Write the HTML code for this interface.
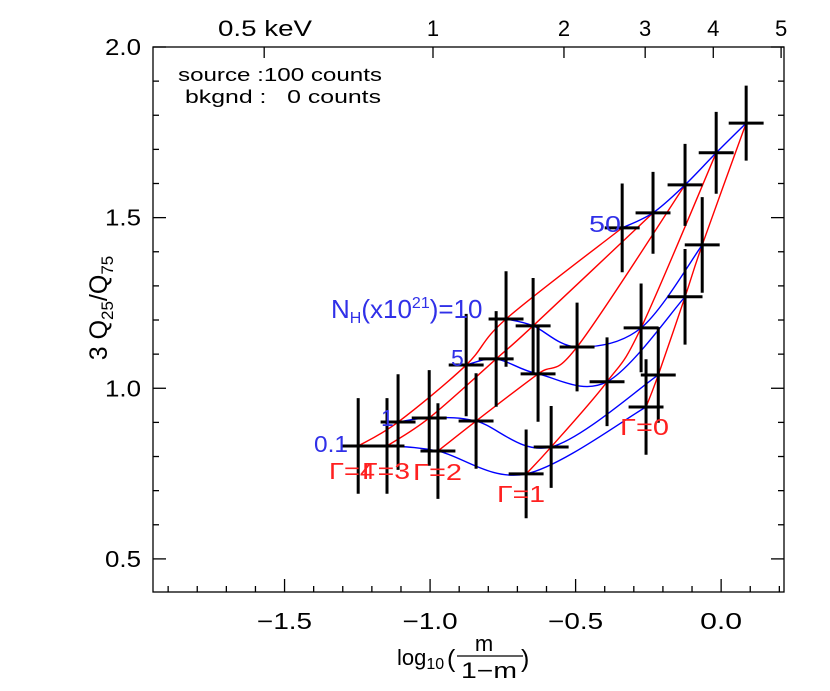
<!DOCTYPE html>
<html><head><meta charset="utf-8"><style>
html,body{margin:0;padding:0;background:#fff;}
svg{display:block;font-family:"Liberation Sans","DejaVu Sans",sans-serif;}
</style></head><body>
<svg id="chart" width="830" height="691" viewBox="0 0 830 691" xmlns="http://www.w3.org/2000/svg">
<rect x="0" y="0" width="830" height="691" fill="#fff"/>
<g id="axes"></g>
<g id="curves"></g>
<g id="points"></g>
<g id="labels">
 <text x="178" y="81" font-size="18" textLength="204" lengthAdjust="spacingAndGlyphs">source :100 counts</text>
 <text x="185" y="103" font-size="18" textLength="196" lengthAdjust="spacingAndGlyphs" xml:space="preserve">bkgnd :   0 counts</text>
 <text x="331" y="318" font-size="26" fill="#3030e8">N<tspan font-size="16" dy="5">H</tspan><tspan dy="-5">(x10</tspan><tspan font-size="16" dy="-10">21</tspan><tspan dy="10">)=10</tspan></text>
 <text x="451" y="366" font-size="23" fill="#3030e8">5</text>
 <text x="381" y="426" font-size="23" fill="#3030e8">1</text>
 <text x="314" y="452" font-size="23" fill="#3030e8" textLength="34" lengthAdjust="spacingAndGlyphs">0.1</text>
 <text x="589" y="232" font-size="23" fill="#3030e8" textLength="32" lengthAdjust="spacingAndGlyphs">50</text>
 <text x="329" y="479" font-size="23" fill="#ff2020" textLength="46" lengthAdjust="spacingAndGlyphs">Γ=4</text>
 <text x="362" y="479" font-size="23" fill="#ff2020" textLength="48" lengthAdjust="spacingAndGlyphs">Γ=3</text>
 <text x="413" y="480" font-size="23" fill="#ff2020" textLength="49" lengthAdjust="spacingAndGlyphs">Γ=2</text>
 <text x="497" y="502" font-size="23" fill="#ff2020" textLength="48" lengthAdjust="spacingAndGlyphs">Γ=1</text>
 <text x="620" y="435" font-size="23" fill="#ff2020" textLength="49" lengthAdjust="spacingAndGlyphs">Γ=0</text>
 <text transform="translate(107,308) rotate(-90)" text-anchor="middle" font-size="25">3 Q<tspan font-size="17" dy="6">25</tspan><tspan dy="-6">/Q</tspan><tspan font-size="17" dy="6">75</tspan></text>
 <g>
  <text x="397" y="665" font-size="22">log<tspan font-size="16" dy="4">10</tspan></text>
  <text x="447" y="667" font-size="25">(</text>
  <text x="484" y="651" font-size="22" text-anchor="middle">m</text>
  <line x1="457" y1="656" x2="523" y2="656" stroke="#000" stroke-width="1.3"/>
  <text x="489" y="678" font-size="22" text-anchor="middle" textLength="56" lengthAdjust="spacingAndGlyphs">1−m</text>
  <text x="521" y="667" font-size="25">)</text>
 </g>
</g>
</svg>
<script>
// ---- data ----
const gammaValues = [4, 3, 2, 1, 0];
const nhValues = [0.1, 1, 5, 10, 50];
// model grid: x (log10(m/(1-m))) indexed [gamma][nh]
const gridX = [
 [-1.247, -1.110, -0.876, -0.739, -0.340],
 [-1.148, -1.003, -0.773, -0.646, -0.234],
 [-0.973, -0.842, -0.629, -0.495, -0.124],
 [-0.670, -0.584, -0.392, -0.275, -0.017],
 [-0.258, -0.216, -0.124, -0.065,  0.086]
];
const gridY = [
 [0.831, 0.901, 1.068, 1.203, 1.470],
 [0.831, 0.913, 1.086, 1.183, 1.514],
 [0.816, 0.904, 1.042, 1.121, 1.596],
 [0.749, 0.828, 1.019, 1.177, 1.690],
 [0.945, 1.039, 1.268, 1.420, 1.777]
];
// observed points (same grid order)
const obsX = [-1.247,-1.110,-0.876,-0.739,-0.340,-1.148,-1.003,-0.773,-0.646,-0.234,-0.973,-0.842,-0.629,-0.495,-0.124,-0.670,-0.584,-0.392,-0.275,-0.017,-0.258,-0.216,-0.124,-0.065,0.086];
const obsY = [0.831,0.901,1.068,1.203,1.470,0.831,0.913,1.086,1.183,1.514,0.816,0.904,1.042,1.121,1.596,0.749,0.828,1.019,1.177,1.690,0.945,1.039,1.268,1.420,1.777];
const obsXErr = [0.06,0.06,0.06,0.06,0.06,0.06,0.06,0.06,0.06,0.06,0.06,0.06,0.06,0.06,0.06,0.06,0.06,0.06,0.06,0.06,0.06,0.06,0.06,0.06,0.06];
const obsYErr = [0.14,0.14,0.15,0.14,0.13,0.14,0.14,0.14,0.14,0.12,0.14,0.14,0.14,0.13,0.12,0.13,0.12,0.13,0.13,0.12,0.14,0.14,0.14,0.14,0.11];
const xTicks = [-1.5, -1.0, -0.5, 0.0];
const xTickLabels = ["−1.5", "−1.0", "−0.5", "0.0"];
const yTicks = [0.5, 1.0, 1.5, 2.0];
const yTickLabels = ["0.5", "1.0", "1.5", "2.0"];
const topTickX = [-1.570, -0.990, -0.540, -0.261, -0.027, 0.206];
const topTickLabels = ["0.5  keV", "1", "2", "3", "4", "5"];
const xMin = -1.952, xMax = 0.216, yMin = 0.403, yMax = 2.0;

// ---- scales ----
const L = 153, R = 784, T = 47, B = 592;
function sx(v) { return L + (v - xMin) / (xMax - xMin) * (R - L); }
function sy(v) { return B - (v - yMin) / (yMax - yMin) * (B - T); }
const NS = "http://www.w3.org/2000/svg";
function mk(tag, attrs, parent) {
  const e = document.createElementNS(NS, tag);
  for (const k in attrs) e.setAttribute(k, attrs[k]);
  parent.appendChild(e);
  return e;
}
const axes = document.getElementById('axes');
const frame = mk('rect', {x: L, y: T, width: R - L, height: B - T, fill: 'none', stroke: '#000', 'stroke-width': 1.3}, axes);


for (let i = -19; i <= 2; i++) {
  const v = i / 10, px = sx(v);
  const major = (i % 5 === 0);
  const len = major ? 13 : 6;
  const t = mk('line', {x1: px, x2: px, y1: B, y2: B - len, stroke: '#000', 'stroke-width': 1.3}, axes);
  
  
}
xTicks.forEach((v, i) => {
  const t = mk('text', {x: sx(v), y: 629, 'font-size': 23, 'text-anchor': 'middle', textLength: i === 3 ? 42 : 55, lengthAdjust: 'spacingAndGlyphs'}, axes);
  t.textContent = xTickLabels[i];
  
  
});
for (let i = 5; i <= 20; i++) {
  const v = i / 10, py = sy(v);
  const major = (i % 5 === 0);
  const len = major ? 13 : 6;
  const a = mk('line', {x1: L, x2: L + len, y1: py, y2: py, stroke: '#000', 'stroke-width': 1.3}, axes);
  
  
  const b = mk('line', {x1: R, x2: R - len, y1: py, y2: py, stroke: '#000', 'stroke-width': 1.3}, axes);
  
  
}
yTicks.forEach((v, i) => {
  const t = mk('text', {x: 141, y: sy(v) + 8, 'font-size': 23, 'text-anchor': 'end', textLength: 36, lengthAdjust: 'spacingAndGlyphs'}, axes);
  t.textContent = yTickLabels[i];
  
  
});
topTickX.forEach((v, i) => {
  const px = sx(v);
  const t = mk('line', {x1: px, x2: px, y1: T, y2: T + 11, stroke: '#000', 'stroke-width': 1.3}, axes);
  
  
  const attrs = {x: i === 0 ? 218 : px, y: 36, 'font-size': 22, 'text-anchor': i === 0 ? 'start' : 'middle'};
  if (i === 0) { attrs.textLength = 94; attrs.lengthAdjust = 'spacingAndGlyphs'; }
  const lab = mk('text', attrs, axes);
  lab.setAttribute('xml:space', 'preserve');
  lab.textContent = topTickLabels[i];
  
  
});

// ---- curves (Catmull-Rom through grid nodes) ----
function spline(pts) {
  let d = 'M' + pts[0][0] + ',' + pts[0][1];
  for (let i = 0; i < pts.length - 1; i++) {
    const p0 = pts[Math.max(0, i - 1)], p1 = pts[i], p2 = pts[i + 1], p3 = pts[Math.min(pts.length - 1, i + 2)];
    const c1 = [p1[0] + (p2[0] - p0[0]) / 6, p1[1] + (p2[1] - p0[1]) / 6];
    const c2 = [p2[0] - (p3[0] - p1[0]) / 6, p2[1] - (p3[1] - p1[1]) / 6];
    d += ' C' + c1[0] + ',' + c1[1] + ' ' + c2[0] + ',' + c2[1] + ' ' + p2[0] + ',' + p2[1];
  }
  return d;
}
const curves = document.getElementById('curves');
gammaValues.forEach((g, gi) => {
  const pts = nhValues.map((n, ni) => [sx(gridX[gi][ni]), sy(gridY[gi][ni])]);
  const p = mk('path', {d: spline(pts), fill: 'none', stroke: '#ff0000', 'stroke-width': 1.4}, curves);
  
  
});
nhValues.forEach((n, ni) => {
  const pts = gammaValues.map((g, gi) => [sx(gridX[gi][ni]), sy(gridY[gi][ni])]);
  const p = mk('path', {d: spline(pts), fill: 'none', stroke: '#0000ff', 'stroke-width': 1.4}, curves);
  
  
});

// ---- data crosses ----
const pg = document.getElementById('points');
obsX.forEach((x, i) => {
  const g = mk('g', {}, pg);
  
  
  const cx = sx(x), cy = sy(obsY[i]);
  mk('line', {x1: sx(x - obsXErr[i]), x2: sx(x + obsXErr[i]), y1: cy, y2: cy, stroke: '#000', 'stroke-width': 3}, g);
  mk('line', {x1: cx, x2: cx, y1: sy(obsY[i] - obsYErr[i]), y2: sy(obsY[i] + obsYErr[i]), stroke: '#000', 'stroke-width': 3}, g);
});
</script>
</body></html>
